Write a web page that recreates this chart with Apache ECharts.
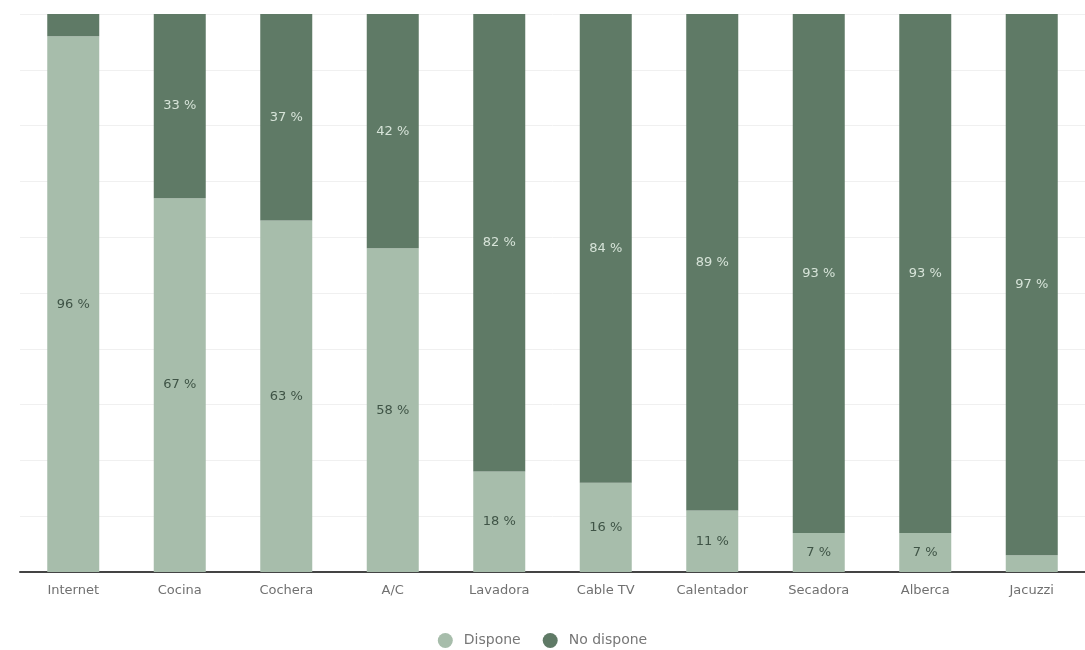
<!DOCTYPE html>
<html>
<head>
<meta charset="utf-8">
<script src="https://cdn.jsdelivr.net/npm/echarts@6/dist/echarts.min.js"></script>
<style>
  html, body { margin: 0; padding: 0; background: #ffffff; }
  #chart { width: 1085px; height: 650px; }
</style>
</head>
<body>
<div id="chart"></div>
<script>
// Equipamiento de la vivienda: porcentaje que dispone / no dispone
const categories = ['Internet', 'Cocina', 'Cochera', 'A/C', 'Lavadora', 'Cable TV', 'Calentador', 'Secadora', 'Alberca', 'Jacuzzi'];
const dispone = [96, 67, 63, 58, 18, 16, 11, 7, 7, 3];
const noDispone = [4, 33, 37, 42, 82, 84, 89, 93, 93, 97];
const seriesNames = ['Dispone', 'No dispone'];

const FONT = '"DejaVu Sans", "Open Sans", sans-serif';
const LIGHT = '#a7bdab';
const DARK = '#5f7a66';

const chart = echarts.init(document.getElementById('chart'));
chart.setOption({
  animation: false,
  textStyle: { fontFamily: FONT },
  grid: { left: 20, right: 0, top: 14, bottom: 78 },
  legend: {
    bottom: -3,
    left: 'center',
    itemWidth: 15,
    itemHeight: 15,
    itemGap: 22,
    icon: 'circle',
    textStyle: { color: '#777', fontSize: 14, fontFamily: FONT, padding: [0, 0, 0, 6] },
    data: seriesNames
  },
  xAxis: {
    type: 'category',
    data: categories,
    axisLine: { lineStyle: { color: '#444', width: 2 } },
    axisTick: { show: false },
    axisLabel: { color: '#707070', fontSize: 13, margin: 12, fontFamily: FONT }
  },
  yAxis: {
    type: 'value',
    min: 0,
    max: 100,
    interval: 10,
    axisLabel: { show: false },
    axisLine: { show: false },
    axisTick: { show: false },
    splitLine: { lineStyle: { color: '#f0f0f0', width: 1 } }
  },
  series: [
    {
      name: seriesNames[0],
      type: 'bar',
      stack: 'total',
      barWidth: 52,
      data: dispone,
      itemStyle: { color: LIGHT },
      label: {
        show: true,
        position: 'inside',
        color: '#3f5446',
        fontSize: 13,
        fontFamily: FONT,
        formatter: p => p.value >= 5 ? p.value + ' %' : ''
      }
    },
    {
      name: seriesNames[1],
      type: 'bar',
      stack: 'total',
      barWidth: 52,
      data: noDispone,
      itemStyle: { color: DARK },
      label: {
        show: true,
        position: 'inside',
        color: '#d6e3d8',
        fontSize: 13,
        fontFamily: FONT,
        formatter: p => p.value >= 5 ? p.value + ' %' : ''
      }
    }
  ]
});
</script>
</body>
</html>
